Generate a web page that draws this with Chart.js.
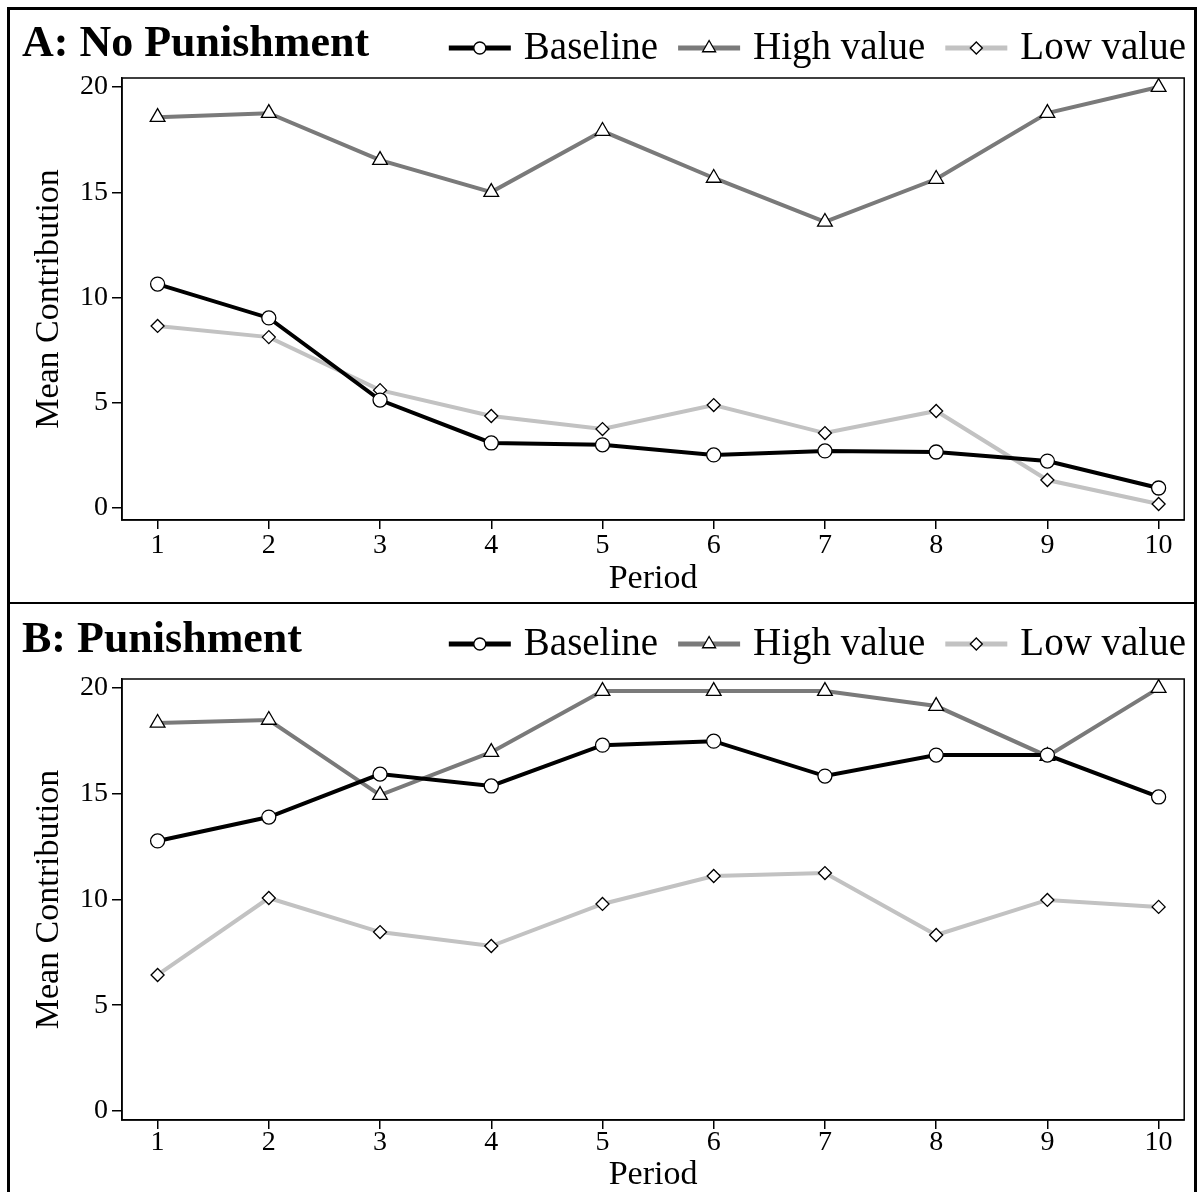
<!DOCTYPE html>
<html>
<head>
<meta charset="utf-8">
<script src="https://cdn.jsdelivr.net/npm/chart.js@4.4.1/dist/chart.umd.min.js"></script>
<style>
body { margin: 0; background: #fff; width: 1198px; height: 1192px; overflow: hidden; position: relative; }
#frame { position: absolute; left: 7px; top: 7px; width: 1190px; height: 1220px; border: 3px solid #000; box-sizing: border-box; }
#divider { position: absolute; left: 7px; top: 602px; width: 1190px; height: 2px; background: #000; }
canvas { position: absolute; left: 10px; }
#panelA { top: 10px; }
#panelB { top: 605px; }
</style>
</head>
<body>
<div id="frame"></div>
<div id="divider"></div>
<canvas id="panelA" width="1184" height="592"></canvas>
<canvas id="panelB" width="1184" height="587"></canvas>
<script>
// periods on x axis, y ticks
var periods = [1, 2, 3, 4, 5, 6, 7, 8, 9, 10];
var yTicks = [0, 5, 10, 15, 20];
var seriesNames = ['Baseline', 'High value', 'Low value'];

// A: No Punishment
var noPunBaseline = [10.64, 9.03, 5.13, 3.09, 3.0, 2.52, 2.71, 2.66, 2.23, 0.95];
var noPunHigh = [18.57, 18.76, 16.53, 15.01, 17.91, 15.68, 13.59, 15.63, 18.76, 20.0];
var noPunLow = [8.65, 8.12, 5.6, 4.37, 3.75, 4.89, 3.56, 4.61, 1.33, 0.19];

// B: Punishment
var punBaseline = [12.77, 13.9, 15.93, 15.37, 17.3, 17.49, 15.84, 16.83, 16.83, 14.85];
var punHigh = [18.35, 18.49, 14.94, 16.97, 19.86, 19.86, 19.86, 19.15, 16.78, 20.0];
var punLow = [6.43, 10.07, 8.46, 7.8, 9.79, 11.11, 11.25, 8.32, 9.98, 9.65];

var FONT = '"Liberation Serif", "Times New Roman", serif';

function toPoints(vals) {
    return periods.map(function (p, i) { return { x: p, y: vals[i] }; });
}

function drawMarker(ctx, style, x, y, r) {
    ctx.beginPath();
    if (style == 'circle') {
        ctx.arc(x, y, r, 0, Math.PI * 2);
    } else if (style == 'triangle') {
        var h = r * Math.sqrt(3) / 2;
        ctx.moveTo(x, y - r);
        ctx.lineTo(x + h, y + r / 2);
        ctx.lineTo(x - h, y + r / 2);
        ctx.closePath();
    } else {
        ctx.moveTo(x, y - r);
        ctx.lineTo(x + r, y);
        ctx.lineTo(x, y + r);
        ctx.lineTo(x - r, y);
        ctx.closePath();
    }
    ctx.fillStyle = '#fff';
    ctx.fill();
    ctx.lineWidth = 1.3;
    ctx.strokeStyle = '#000';
    ctx.stroke();
}

// box round the plot + title and legend row
var boxAndLegend = {
    id: 'boxAndLegend',
    afterDraw: function (chart, args, opts) {
        var ctx = chart.ctx;
        var a = chart.chartArea;
        ctx.save();
        ctx.strokeStyle = '#000';
        ctx.lineWidth = 1.5;
        ctx.strokeRect(a.left, a.top, a.right - a.left, a.bottom - a.top);

        ctx.fillStyle = '#000';
        ctx.textBaseline = 'middle';
        ctx.textAlign = 'left';
        ctx.font = 'bold 44px ' + FONT;
        ctx.fillText(opts.title, 12, opts.y);

        ctx.font = '39px ' + FONT;
        var lineLen = 62, gapText = 13, gapItem = 20;
        var dss = chart.data.datasets;
        var total = 0;
        dss.forEach(function (ds, i) {
            total += lineLen + gapText + ctx.measureText(ds.label).width;
            if (i < dss.length - 1) total += gapItem;
        });
        var x = 1176 - total;
        var ms = { circle: 6, triangle: 7.5, rectRot: 6 };
        var ly = opts.y + 3;
        dss.forEach(function (ds) {
            ctx.strokeStyle = ds.borderColor;
            ctx.lineWidth = 5;
            ctx.beginPath();
            ctx.moveTo(x, ly);
            ctx.lineTo(x + lineLen, ly);
            ctx.stroke();
            drawMarker(ctx, ds.pointStyle, x + lineLen / 2, ly, ms[ds.pointStyle]);
            ctx.fillStyle = '#000';
            ctx.fillText(ds.label, x + lineLen + gapText, ly + 1);
            x += lineLen + gapText + ctx.measureText(ds.label).width + gapItem;
        });
        ctx.restore();
    }
};

function makeChart(id, title, base, high, low, g) {
    var cfg = {
        type: 'line',
        data: {
            datasets: [{
                label: seriesNames[0],
                data: toPoints(base),
                borderColor: '#000000',
                borderWidth: 4,
                pointStyle: 'circle',
                pointRadius: 7,
                pointBackgroundColor: '#fff',
                pointBorderColor: '#000',
                pointBorderWidth: 1.3
            }, {
                label: seriesNames[1],
                data: toPoints(high),
                borderColor: '#7a7a7a',
                borderWidth: 4,
                pointStyle: 'triangle',
                pointRadius: 8.5,
                pointBackgroundColor: '#fff',
                pointBorderColor: '#000',
                pointBorderWidth: 1.3
            }, {
                label: seriesNames[2],
                data: toPoints(low),
                borderColor: '#c2c2c2',
                borderWidth: 4,
                pointStyle: 'rectRot',
                pointRadius: 6.5,
                pointBackgroundColor: '#fff',
                pointBorderColor: '#000',
                pointBorderWidth: 1.3
            }]
        },
        options: {
            responsive: false,
            animation: false,
            layout: { padding: { left: 0, right: 8, top: g.top, bottom: 0 } },
            plugins: {
                legend: { display: false },
                tooltip: { enabled: false },
                boxAndLegend: { title: title, y: g.titleY }
            },
            scales: {
                x: {
                    type: 'linear',
                    min: 0.68,
                    max: 10.23,
                    afterBuildTicks: function (s) { s.ticks = periods.map(function (v) { return { value: v }; }); },
                    afterFit: function (s) { s.height = g.xh; },
                    grid: { drawOnChartArea: false, drawTicks: true, tickLength: 9, color: '#000', lineWidth: 1.5 },
                    border: { display: true, color: '#000', width: 1.5 },
                    ticks: {
                        color: '#000', padding: g.xpad, maxRotation: 0, autoSkip: false,
                        font: { family: FONT, size: 28, lineHeight: 1 }
                    },
                    title: {
                        display: true, text: 'Period', color: '#000',
                        font: { family: FONT, size: 34, lineHeight: 1.2 },
                        padding: { top: 0, bottom: g.tpad }
                    }
                },
                y: {
                    type: 'linear',
                    min: g.ymin,
                    max: 20.43,
                    afterBuildTicks: function (s) { s.ticks = yTicks.map(function (v) { return { value: v }; }); },
                    afterFit: function (s) { s.width = 112; },
                    grid: { drawOnChartArea: false, drawTicks: true, tickLength: 10, color: '#000', lineWidth: 1.5 },
                    border: { display: true, color: '#000', width: 1.5 },
                    ticks: {
                        color: '#000', padding: 4,
                        font: { family: FONT, size: 28, lineHeight: 1 }
                    },
                    title: {
                        display: true, text: 'Mean Contribution', color: '#000',
                        font: { family: FONT, size: 34, lineHeight: 1.2 },
                        padding: { top: 19, bottom: 0 }
                    }
                }
            }
        },
        plugins: [boxAndLegend]
    };
    return new Chart(document.getElementById(id), cfg);
}

makeChart('panelA', 'A: No Punishment', noPunBaseline, noPunHigh, noPunLow,
    { top: 68, xh: 82, xpad: 3, tpad: 3, ymin: -0.57, titleY: 35 });
makeChart('panelB', 'B: Punishment', punBaseline, punHigh, punLow,
    { top: 74, xh: 72, xpad: 0, tpad: -3, ymin: -0.43, titleY: 36 });
</script>
</body>
</html>
